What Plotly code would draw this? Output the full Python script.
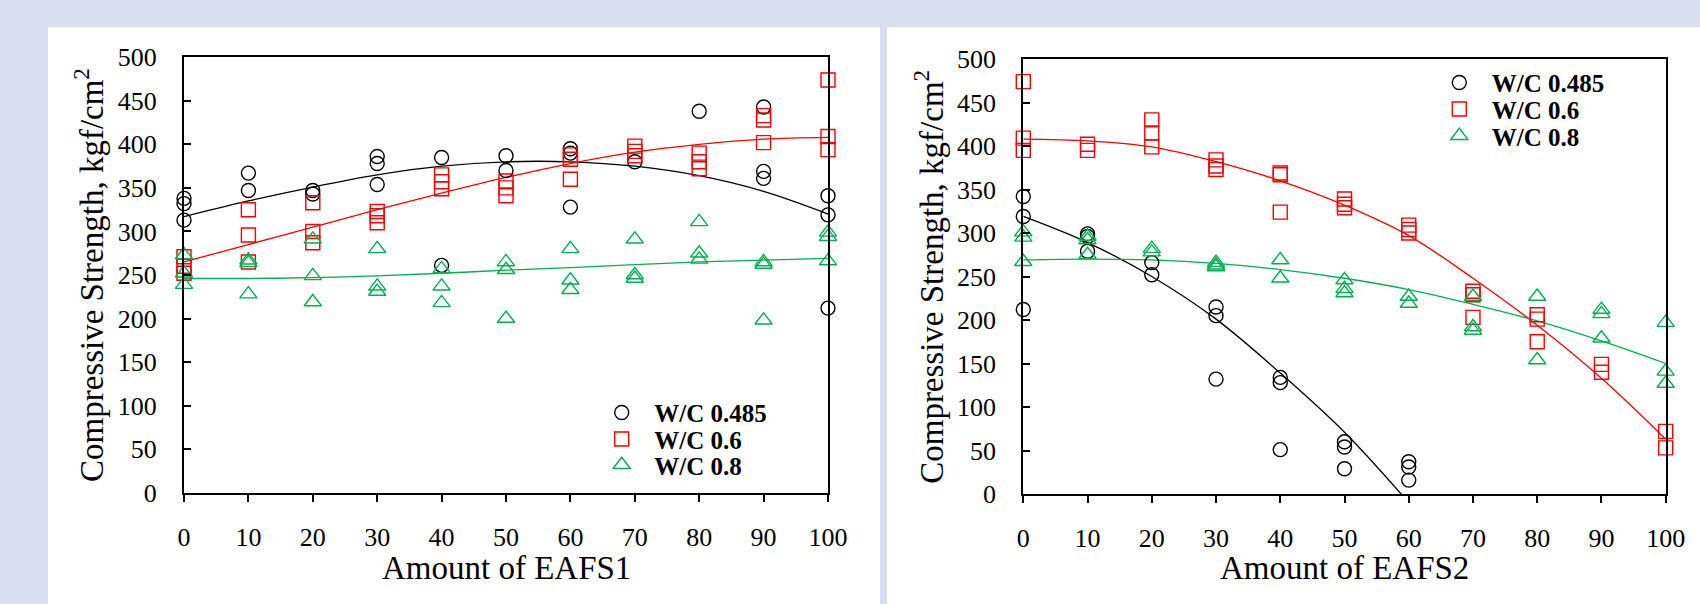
import plotly.graph_objects as go

# ---------------- data ----------------
SERIES_NAMES = ["W/C 0.485", "W/C 0.6", "W/C 0.8"]
X_TICKS = [0, 10, 20, 30, 40, 50, 60, 70, 80, 90, 100]
Y_TICKS = [0, 50, 100, 150, 200, 250, 300, 350, 400, 450, 500]

# Left panel : Amount of EAFS1
e1_x_485 = [0, 0, 0, 10, 10, 20, 20, 30, 30, 30, 40, 40, 50, 50, 60, 60, 60, 70, 80, 90, 90, 90, 100, 100, 100]
e1_y_485 = [338, 332, 313, 367, 347, 347, 343, 386, 378, 354, 385, 261, 387, 370, 395, 390, 328, 380, 438, 443, 369, 361, 341, 319, 212]
e1_x_06 = [0, 0, 0, 10, 10, 10, 20, 20, 20, 30, 30, 30, 40, 40, 40, 50, 50, 50, 60, 60, 60, 70, 70, 70, 80, 80, 80, 90, 90, 90, 100, 100, 100]
e1_y_06 = [271, 260, 252, 325, 296, 265, 333, 300, 287, 323, 318, 310, 365, 357, 349, 358, 350, 341, 388, 383, 360, 398, 392, 387, 390, 380, 372, 433, 428, 402, 474, 409, 394]
e1_x_08 = [0, 0, 0, 10, 10, 10, 20, 20, 20, 30, 30, 30, 40, 40, 40, 50, 50, 50, 60, 60, 60, 70, 70, 70, 80, 80, 80, 90, 90, 90, 100, 100, 100]
e1_y_08 = [273, 252, 239, 267, 264, 228, 291, 249, 219, 280, 237, 231, 257, 237, 218, 265, 256, 200, 280, 244, 233, 291, 250, 246, 311, 275, 268, 265, 262, 198, 299, 294, 266]

# Left panel trend curves (values read at each tick)
e1_fit_x = [0, 10, 20, 30, 40, 50, 60, 70, 80, 90, 100]
e1_fit_485 = [317, 335, 351, 365, 375, 380, 380, 375, 364, 346, 320]
e1_fit_06 = [265, 285, 305, 325, 344, 362, 378, 391, 400, 406, 408]
e1_fit_08 = [246, 246, 247, 249, 252, 255.5, 258.5, 262, 265, 267, 269]

# Right panel : Amount of EAFS2
e2_x_485 = [0, 0, 0, 10, 10, 10, 20, 20, 30, 30, 30, 40, 40, 40, 50, 50, 50, 60, 60, 60]
e2_y_485 = [342, 319, 212, 299, 296, 279, 266, 252, 215, 205, 132, 134, 128, 51, 60, 54, 29, 37, 31, 16]
e2_x_06 = [0, 0, 0, 10, 10, 20, 20, 20, 30, 30, 30, 40, 40, 40, 50, 50, 50, 60, 60, 60, 70, 70, 70, 80, 80, 80, 90, 90, 100, 100]
e2_y_06 = [474, 409, 395, 402, 395, 430, 415, 399, 384, 377, 373, 369, 367, 324, 339, 333, 329, 309, 304, 300, 233, 229, 203, 206, 201, 175, 149, 140, 72, 53]
e2_x_08 = [0, 0, 0, 10, 10, 10, 20, 20, 30, 30, 30, 40, 40, 50, 50, 50, 60, 60, 70, 70, 70, 80, 80, 90, 90, 90, 100, 100, 100]
e2_y_08 = [301, 295, 267, 296, 292, 275, 282, 278, 266, 263, 261, 269, 248, 246, 236, 231, 227, 219, 227, 192, 188, 227, 154, 212, 207, 179, 197, 141, 127]

# Right panel trend curves (values read at each tick)
e2_fit_x = [0, 10, 20, 30, 40, 50, 60, 70, 80, 90, 100]
e2_fit_x_485 = [0, 10, 20, 30, 40, 50, 60]
e2_fit_485 = [319, 289, 250, 201, 139, 71, -10]
e2_fit_06 = [408, 406, 399, 382, 360, 332, 297, 248, 194, 133, 63]
e2_fit_08 = [269, 270, 269, 265, 258, 248, 235, 218, 199, 176, 150]

# ---------------- styling ----------------
BG = "#D6DEF0"
COLORS = ["#000000", "#FF0000", "#00B050"]
SYMBOLS = ["circle-open", "square-open", "triangle-up-open"]
SIZES = [14, 14, 15]
FONT = "Liberation Serif"
W, H = 1700, 604

def px_x(p):
    return p / W

def px_y(p):
    return (H - p) / H

L_XD = [px_x(184), px_x(828)]
L_YD = [px_y(492.7), px_y(57.3)]
R_XD = [px_x(1023.3), px_x(1665.7)]
R_YD = [px_y(494), px_y(59)]

fig = go.Figure()

def add_panel(xa, ya, pts, fits, legends):
    for i, (xs, ys) in enumerate(fits):
        fig.add_trace(go.Scatter(
            x=xs, y=ys, mode="lines", showlegend=False, hoverinfo="skip",
            line=dict(color=COLORS[i], width=1.3, shape="spline", smoothing=1.0),
            xaxis=xa, yaxis=ya))
    for i, (xs, ys) in enumerate(pts):
        fig.add_trace(go.Scatter(
            x=xs, y=ys, mode="markers", name="\u00a0\u00a0" + SERIES_NAMES[i],
            marker=dict(symbol=SYMBOLS[i], size=SIZES[i], color=COLORS[i],
                        line=dict(width=1.4, color=COLORS[i])),
            cliponaxis=False, xaxis=xa, yaxis=ya, legend=legends[i]))

add_panel("x", "y",
          [(e1_x_485, e1_y_485), (e1_x_06, e1_y_06), (e1_x_08, e1_y_08)],
          [(e1_fit_x, e1_fit_485), (e1_fit_x, e1_fit_06), (e1_fit_x, e1_fit_08)],
          ["legend", "legend2", "legend3"])
add_panel("x2", "y2",
          [(e2_x_485, e2_y_485), (e2_x_06, e2_y_06), (e2_x_08, e2_y_08)],
          [(e2_fit_x_485, e2_fit_485), (e2_fit_x, e2_fit_06), (e2_fit_x, e2_fit_08)],
          ["legend4", "legend5", "legend6"])

tickfont = dict(family=FONT, size=26, color="black")

def xaxis(domain, anchor):
    return dict(domain=domain, anchor=anchor, range=[0, 100], tickvals=X_TICKS,
                ticks="outside", ticklen=7, tickwidth=2, tickcolor="black",
                showline=True, linewidth=2, linecolor="black", mirror=True,
                showgrid=False, zeroline=False, tickfont=tickfont,
                ticklabelstandoff=13, automargin=False, fixedrange=True)

def xaxis_inner(overlay, anchor):
    return dict(overlaying=overlay, anchor=anchor, range=[0, 100], tickvals=X_TICKS,
                ticks="inside", ticklen=7, tickwidth=2, tickcolor="black",
                showticklabels=False, showline=False, showgrid=False,
                zeroline=False, automargin=False, side="bottom", fixedrange=True)

def yaxis(domain, anchor):
    return dict(domain=domain, anchor=anchor, range=[0, 500], tickvals=Y_TICKS,
                ticks="inside", ticklen=7, tickwidth=2, tickcolor="black",
                showline=True, linewidth=2, linecolor="black", mirror=True,
                showgrid=False, zeroline=False, tickfont=tickfont,
                ticklabelstandoff=20, automargin=False, fixedrange=True)

def legend_at(xc, yc):
    return dict(x=px_x(xc - 20), y=px_y(yc), xanchor="left", yanchor="middle",
                bgcolor="rgba(0,0,0,0)", borderwidth=0,
                font=dict(family=FONT, size=25, color="black", weight="bold"))

title_font = dict(family=FONT, size=33, color="black")
ytitle = "Compressive Strength, kgf/cm<sup>2</sup>"

fig.update_layout(
    width=W, height=H, margin=dict(l=0, r=0, t=0, b=0),
    paper_bgcolor=BG, plot_bgcolor="white", showlegend=True,
    xaxis=xaxis(L_XD, "y"), yaxis=yaxis(L_YD, "x"),
    xaxis2=xaxis(R_XD, "y2"), yaxis2=yaxis(R_YD, "x2"),
    xaxis3=xaxis_inner("x", "y"), xaxis4=xaxis_inner("x2", "y2"),
    legend=legend_at(621.7, 412.7), legend2=legend_at(621.7, 439.3), legend3=legend_at(621.7, 465),
    legend4=legend_at(1459.3, 82.7), legend5=legend_at(1459.3, 109.3), legend6=legend_at(1459.3, 136),
    shapes=[
        dict(type="rect", xref="paper", yref="paper", x0=px_x(48), x1=px_x(880),
             y0=0, y1=px_y(27), fillcolor="white", line=dict(width=0), layer="below"),
        dict(type="rect", xref="paper", yref="paper", x0=px_x(887), x1=1,
             y0=0, y1=px_y(27), fillcolor="white", line=dict(width=0), layer="below"),
    ],
    annotations=[
        dict(text=ytitle, xref="paper", yref="paper", x=px_x(89), y=sum(L_YD) / 2,
             xanchor="center", yanchor="middle", textangle=-90, showarrow=False, font=title_font),
        dict(text=ytitle, xref="paper", yref="paper", x=px_x(89 + 1023.3 - 184), y=sum(R_YD) / 2,
             xanchor="center", yanchor="middle", textangle=-90, showarrow=False, font=title_font),
        dict(text="Amount of EAFS1", xref="paper", yref="paper", x=sum(L_XD) / 2, y=px_y(568),
             xanchor="center", yanchor="middle", showarrow=False, font=title_font),
        dict(text="Amount of EAFS2", xref="paper", yref="paper", x=sum(R_XD) / 2, y=px_y(568),
             xanchor="center", yanchor="middle", showarrow=False, font=title_font),
    ],
)

fig.write_html("out.html", config=dict(displayModeBar=False),
               post_script="document.body.style.margin='0';")
